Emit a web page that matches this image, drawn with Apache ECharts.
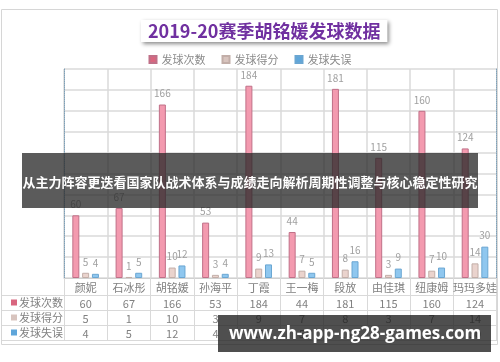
<!DOCTYPE html>
<html><head><meta charset="utf-8">
<script src="https://cdn.jsdelivr.net/npm/echarts@6/dist/echarts.min.js"></script>
<style>html,body{margin:0;padding:0;background:#fff}#c{width:500px;height:362px}</style>
</head><body><div id="c"></div>
<script>
const categories = ['颜妮','石冰彤','胡铭媛','孙海平','丁霞','王一梅','段放','由佳琪','纽康姆','玛玛多娃'];
const seriesNames = ['发球次数','发球得分','发球失误'];
const serveCount = [60, 67, 166, 53, 184, 44, 181, 115, 160, 124];
const serveScore = [5, 1, 10, 3, 9, 7, 8, 3, 7, 14];
const serveError = [4, 5, 12, 4, 13, 5, 16, 9, 10, 30];
const yTicks = {min: 0, max: 200, interval: 20};
const titleText = '2019-20赛季胡铭媛发球数据';
const bannerText = '从主力阵容更迭看国家队战术体系与成绩走向解析周期性调整与核心稳定性研究';
const watermarkText = 'www.zh-app-ng28-games.com';

const colors = ['#F39AAF', '#EAD3CD', '#8FC7EF'];
const borders = ['#C07088', '#C2AEA8', '#6AA6D2'];
const keyColors = ['#D9667F', '#D8C4BE', '#5FA6DA'];
const FONT = '"Noto Sans CJK SC", "Noto Sans", sans-serif';
const values = [serveCount, serveScore, serveError];

const chart = echarts.init(document.getElementById('c'));

const tableRowAxes = values.map((v, i) => ({
  type: 'category', data: v.map(String), position: 'bottom', gridIndex: 0,
  offset: 17 + i * 15,
  axisLine: {show: false}, axisTick: {show: false}, splitLine: {show: false},
  axisLabel: {color: '#808080', fontSize: 11, margin: 3, interval: 0, fontFamily: FONT}
}));

const graphics = [
  {type: 'rect', z: -10, shape: {x: 1.5, y: 9.5, width: 496, height: 335}, style: {fill: 'none', stroke: '#d6d6d6', lineWidth: 1}},
];
[295, 310, 325, 340].forEach(y => graphics.push({type: 'line', z: 1, shape: {x1: 2, y1: y + 0.5, x2: 497, y2: y + 0.5}, style: {stroke: '#d9d9d9', lineWidth: 1}}));
graphics.push({type: 'line', shape: {x1: 64.5, y1: 278, x2: 64.5, y2: 340}, style: {stroke: '#d9d9d9', lineWidth: 1}});
seriesNames.forEach((n, i) => {
  const cy = 303 + i * 15;
  graphics.push({type: 'rect', shape: {x: 11, y: cy - 3.5, width: 6, height: 6}, style: {fill: keyColors[i]}});
  graphics.push({type: 'text', style: {x: 19, y: cy, text: n, fill: '#808080', font: '11px ' + FONT, verticalAlign: 'middle'}});
});
graphics.push({type: 'rect', z: 100, shape: {x: 22, y: 153, width: 456, height: 55}, style: {fill: 'rgba(40,40,40,0.76)'}});
graphics.push({type: 'text', z: 101, style: {x: 250, y: 182, text: bannerText, fill: '#fff', font: 'bold 13px ' + FONT, align: 'center', verticalAlign: 'middle'}});
graphics.push({type: 'rect', z: 100, shape: {x: 218, y: 315, width: 273, height: 37}, style: {fill: 'rgba(30,30,30,0.78)'}});
graphics.push({type: 'text', z: 101, style: {x: 355, y: 334, text: watermarkText, fill: '#fff', font: 'bold 17px "Open Sans", "DejaVu Sans", sans-serif', align: 'center', verticalAlign: 'middle'}});

chart.setOption({
  animation: false,
  textStyle: {fontFamily: FONT},
  title: {
    text: titleText, left: 141, top: 20,
    backgroundColor: '#fff', padding: [2, 7],
    shadowBlur: 4, shadowColor: 'rgba(0,0,0,0.45)', shadowOffsetX: 2, shadowOffsetY: 2,
    textStyle: {color: '#7030A0', fontSize: 18, fontWeight: 'bold', fontFamily: FONT}
  },
  legend: {
    top: 49, left: 'center', icon: 'rect', itemWidth: 7, itemHeight: 7, itemGap: 16,
    textStyle: {color: '#8a8a8a', fontSize: 11, fontFamily: FONT},
    data: seriesNames.map((n, i) => ({name: n, itemStyle: {color: keyColors[i]}}))
  },
  grid: {left: 64, right: 3, top: 69, bottom: 84, containLabel: false},
  xAxis: [
    {
      type: 'category', data: categories, position: 'bottom',
      axisLine: {show: true, lineStyle: {color: '#d0d0d0'}},
      axisTick: {show: true, length: 62, interval: 0, lineStyle: {color: '#d9d9d9'}},
      splitLine: {show: true, interval: 0, lineStyle: {color: '#dadada', width: 1.5}},
      axisLabel: {color: '#808080', fontSize: 11, margin: 4, interval: 0, fontFamily: FONT}
    },
    ...tableRowAxes
  ],
  yAxis: [
    {
      type: 'value', min: yTicks.min, max: yTicks.max, interval: yTicks.interval,
      axisLabel: {show: false}, axisTick: {show: false},
      axisLine: {show: true, lineStyle: {type: 'dotted', color: '#7fa0b8'}},
      splitLine: {show: true, lineStyle: {color: '#dadada', width: 1.5}}
    },
    {
      type: 'value', position: 'right', min: yTicks.min, max: yTicks.max, interval: yTicks.interval,
      axisLabel: {show: false}, axisTick: {show: false}, splitLine: {show: false},
      axisLine: {show: true, lineStyle: {type: 'dotted', color: '#7fa0b8'}}
    }
  ],
  series: values.map((v, i) => ({
    name: seriesNames[i], type: 'bar', data: v, barWidth: 7, barGap: '40%',
    xAxisIndex: 0, yAxisIndex: 0,
    itemStyle: {color: colors[i], borderColor: borders[i], borderWidth: 1},
    label: {show: true, position: 'top', color: '#a0a0a0', fontSize: 10, distance: 6}
  })),
  graphic: graphics
});
</script></body></html>
